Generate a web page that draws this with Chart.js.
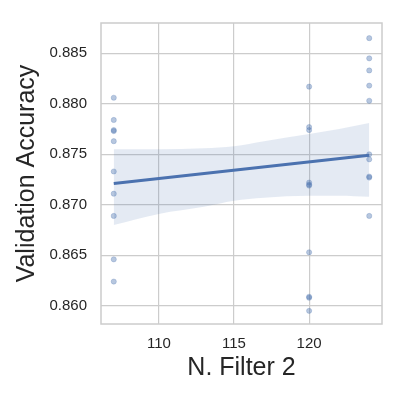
<!DOCTYPE html>
<html>
<head>
<meta charset="utf-8">
<script src="https://cdn.jsdelivr.net/npm/chart.js@4"></script>
<style>
  body { margin: 0; background: #fff; }
  #chart { display: block; }
</style>
</head>
<body>
<canvas id="chart" width="400" height="400"></canvas>
<script>
// data
var filterSizes = [107, 120, 124];
var acc107 = [0.8806, 0.8784, 0.8774, 0.8773, 0.8763, 0.8733, 0.8711, 0.8689, 0.8646, 0.8624];
var acc120 = [0.8817, 0.8777, 0.8774, 0.8722, 0.8720, 0.8719, 0.8653, 0.8609, 0.8608, 0.8595];
var acc124 = [0.8865, 0.8845, 0.8833, 0.8818, 0.8803, 0.8750, 0.8745, 0.8728, 0.8727, 0.8689];

// regression fit and its confidence band
var fitX = [107, 124];
var fitY = [0.8721, 0.8749];
var bandX = [107, 110, 113, 115, 117, 120, 122, 124];
var bandUpper = [0.8755, 0.8755, 0.8756, 0.8758, 0.8763, 0.8770, 0.8775, 0.8781];
var bandLower = [0.8680, 0.8691, 0.8698, 0.8704, 0.8707, 0.8709, 0.8709, 0.8708];

var xTicks = [110, 115, 120];
var yTicks = [0.860, 0.865, 0.870, 0.875, 0.880, 0.885];

var blue = '#4c72b0';
var gridColor = '#cccccc';
var textColor = '#262626';
var fontFamily = '"Liberation Sans", Arial, sans-serif';

var groups = [acc107, acc120, acc124];
var points = [];
groups.forEach(function (vals, i) {
  vals.forEach(function (v) { points.push({x: filterSizes[i], y: v}); });
});

function toXY(xs, ys) {
  return xs.map(function (x, i) { return {x: x, y: ys[i]}; });
}

// seaborn draws a frame on all four sides
var frame = {
  id: 'frame',
  afterDraw: function (chart) {
    var a = chart.chartArea, ctx = chart.ctx;
    ctx.save();
    ctx.strokeStyle = gridColor;
    ctx.lineWidth = 1.5;
    ctx.strokeRect(a.left, a.top, a.right - a.left, a.bottom - a.top);
    ctx.restore();
  }
};

new Chart(document.getElementById('chart'), {
  type: 'scatter',
  data: {
    datasets: [
      {
        label: 'points',
        data: points,
        backgroundColor: 'rgba(76, 114, 176, 0.4)',
        borderColor: 'rgba(76, 114, 176, 0.5)',
        borderWidth: 0.5,
        pointRadius: 2.6
      },
      {
        label: 'upper',
        type: 'line',
        data: toXY(bandX, bandUpper),
        borderWidth: 0,
        pointRadius: 0,
        fill: false,
        cubicInterpolationMode: 'monotone'
      },
      {
        label: 'lower',
        type: 'line',
        data: toXY(bandX, bandLower),
        borderWidth: 0,
        pointRadius: 0,
        backgroundColor: 'rgba(76, 114, 176, 0.15)',
        fill: '-1',
        cubicInterpolationMode: 'monotone'
      },
      {
        label: 'fit',
        type: 'line',
        data: toXY(fitX, fitY),
        borderColor: blue,
        borderWidth: 3,
        pointRadius: 0,
        fill: false
      }
    ]
  },
  options: {
    responsive: false,
    animation: false,
    devicePixelRatio: 1,
    layout: { padding: { top: 17, right: 18, left: 0, bottom: 0 } },
    plugins: {
      legend: { display: false },
      tooltip: { enabled: false }
    },
    scales: {
      x: {
        type: 'linear',
        min: 106.15,
        max: 124.85,
        afterBuildTicks: function (scale) {
          scale.ticks = xTicks.map(function (v) { return {value: v}; });
        },
        afterFit: function (scale) { scale.height = 76; },
        grid: { color: gridColor, lineWidth: 1.2, drawTicks: false },
        border: { display: false },
        ticks: {
          color: textColor,
          font: { family: fontFamily, size: 15 },
          padding: 11,
          maxRotation: 0
        },
        title: {
          display: true,
          text: 'N. Filter 2',
          color: textColor,
          font: { family: fontFamily, size: 25 },
          padding: { top: 0, bottom: 17 }
        }
      },
      y: {
        type: 'linear',
        min: 0.8582,
        max: 0.8880,
        afterBuildTicks: function (scale) {
          scale.ticks = yTicks.map(function (v) { return {value: v}; });
        },
        afterFit: function (scale) { scale.width = 101; },
        grid: { color: gridColor, lineWidth: 1.2, drawTicks: false },
        border: { display: false },
        ticks: {
          color: textColor,
          font: { family: fontFamily, size: 15 },
          padding: 14,
          callback: function (v) { return v.toFixed(3); }
        },
        title: {
          display: true,
          text: 'Validation Accuracy',
          color: textColor,
          font: { family: fontFamily, size: 25 },
          padding: { top: 12, bottom: 0 }
        }
      }
    }
  },
  plugins: [frame]
});
</script>
</body>
</html>
